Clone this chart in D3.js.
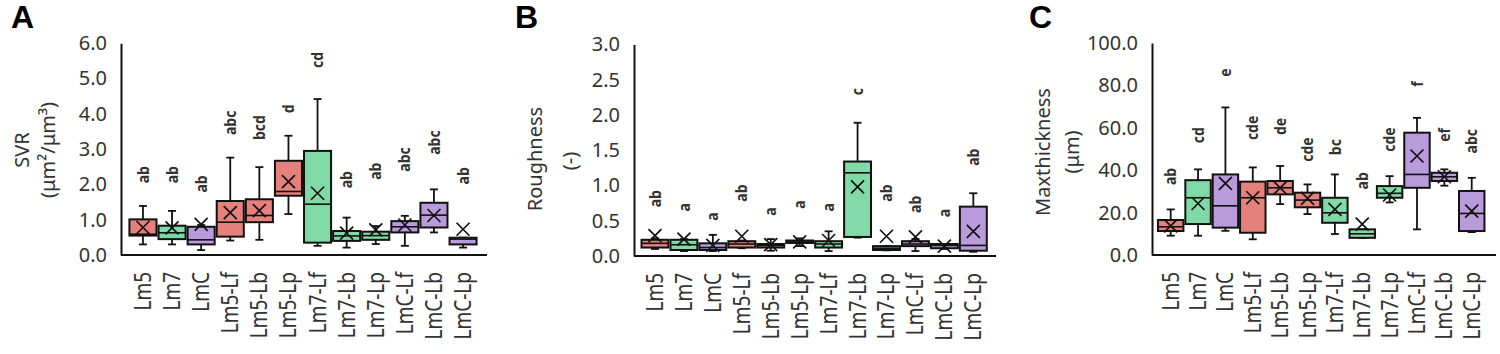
<!DOCTYPE html>
<html>
<head>
<meta charset="utf-8">
<script src="https://cdn.jsdelivr.net/npm/d3@7"></script>
<style>
  body { margin: 0; background: #fff; }
  svg { display: block; }
</style>
</head>
<body>
<div id="fig"></div>
<script>
// sample names and their strain group (sets the colour)
var categories = ["Lm5", "Lm7", "LmC", "Lm5-Lf", "Lm5-Lb", "Lm5-Lp",
                  "Lm7-Lf", "Lm7-Lb", "Lm7-Lp", "LmC-Lf", "LmC-Lb", "LmC-Lp"];
var groups = ["Lm5", "Lm7", "LmC", "Lm5", "Lm5", "Lm5",
              "Lm7", "Lm7", "Lm7", "LmC", "LmC", "LmC"];

// A - SVR
var svrMin  = [0.30, 0.30, 0.14, 0.41, 0.43, 1.16, 0.26, 0.21, 0.31, 0.26, 0.64, 0.21];
var svrQ1   = [0.55, 0.45, 0.30, 0.52, 0.93, 1.68, 0.35, 0.40, 0.43, 0.64, 0.78, 0.30];
var svrMed  = [0.59, 0.63, 0.43, 0.93, 1.12, 1.80, 1.44, 0.54, 0.55, 0.80, 1.13, 0.45];
var svrQ3   = [1.01, 0.83, 0.80, 1.53, 1.58, 2.67, 2.95, 0.68, 0.66, 0.96, 1.48, 0.49];
var svrMax  = [1.39, 1.25, 0.85, 2.76, 2.49, 3.38, 4.42, 1.06, 0.82, 1.11, 1.86, 0.49];
var svrMean = [0.78, 0.77, 0.87, 1.20, 1.26, 2.08, 1.75, 0.62, 0.71, 0.85, 1.12, 0.73];
var svrLetters  = ["ab", "ab", "ab", "abc", "bcd", "d", "cd", "ab", "ab", "abc", "abc", "ab"];
var svrLetterAt = [2.03, 2.03, 1.77, 3.40, 3.26, 4.02, 5.30, 1.89, 2.13, 2.36, 2.84, 2.00];
var svrTicks = [0, 1, 2, 3, 4, 5, 6];

// B - Roughness
var rghMin  = [0.10, 0.07, 0.07, 0.11, 0.075, 0.14, 0.07, 0.26, 0.08, 0.07, 0.10, 0.06];
var rghQ1   = [0.12, 0.085, 0.085, 0.12, 0.12, 0.185, 0.12, 0.27, 0.085, 0.14, 0.11, 0.075];
var rghMed  = [0.18, 0.16, 0.12, 0.17, 0.15, 0.20, 0.17, 1.18, 0.11, 0.17, 0.15, 0.15];
var rghQ3   = [0.23, 0.23, 0.18, 0.21, 0.17, 0.22, 0.21, 1.34, 0.14, 0.21, 0.17, 0.70];
var rghMax  = [0.25, 0.24, 0.30, 0.22, 0.24, 0.25, 0.35, 1.89, 0.14, 0.24, 0.17, 0.89];
var rghMean = [0.29, 0.24, 0.15, 0.28, 0.16, 0.20, 0.22, 0.98, 0.28, 0.27, 0.14, 0.35];
var rghLetters  = ["ab", "a", "a", "ab", "a", "a", "a", "c", "ab", "ab", "a", "ab"];
var rghLetterAt = [0.69, 0.63, 0.50, 0.77, 0.57, 0.67, 0.63, 2.28, 0.77, 0.61, 0.55, 1.28];
var rghTicks = [0, 0.5, 1, 1.5, 2, 2.5, 3];

// C - Max thickness
var mthMin  = [9.1, 9.1, 11.4, 7.4, 24.0, 19.3, 9.9, 8.0, 24.8, 12.1, 32.7, 10.8];
var mthQ1   = [11.3, 14.6, 12.9, 10.5, 28.6, 22.5, 15.2, 8.1, 27.0, 31.7, 34.9, 11.3];
var mthMed  = [13.3, 27.0, 23.2, 27.0, 31.7, 25.9, 19.9, 10.0, 29.1, 38.0, 36.9, 19.6];
var mthQ3   = [16.5, 35.3, 38.0, 34.6, 34.9, 29.4, 27.0, 12.1, 32.5, 57.7, 38.8, 30.2];
var mthMax  = [21.5, 40.4, 69.6, 41.3, 42.0, 33.3, 38.0, 12.1, 37.2, 64.7, 40.4, 36.4];
var mthMean = [13.7, 24.3, 33.8, 27.0, 31.7, 26.7, 21.5, 14.6, 28.3, 46.7, 36.9, 20.7];
var mthLetters  = ["ab", "cd", "e", "cde", "de", "cde", "bc", "ab", "cde", "f", "ef", "abc"];
var mthLetterAt = [33.0, 52.7, 84.1, 54.2, 56.6, 44.0, 47.1, 30.9, 48.7, 79.4, 53.4, 47.9];
var mthTicks = [0, 20, 40, 60, 80, 100];

var colors = {Lm5: "#e6807c", Lm7: "#80d9a6", LmC: "#b99bdb"};

var svg = d3.select("#fig")
    .append("svg")
    .attr("width", 1500)
    .attr("height", 354);

function draw_panel(p) {
    var g = svg.append("g");

    var y = d3.scaleLinear()
	.domain([0, p.ticks[p.ticks.length - 1]])
	.range([p.bottom, p.top]);

    var x = d3.scaleBand()
	.domain(categories)
	.range([p.left, p.right])
	.paddingInner(0.07)
	.paddingOuter(0.035);

    var rows = categories.map((c, i) => ({
	name: c, group: groups[i],
	min: p.min[i], q1: p.q1[i], med: p.med[i], q3: p.q3[i], max: p.max[i],
	mean: p.mean[i], letter: p.letters[i], letterAt: p.letterAt[i]
    }));

    // y axis
    var yAxis = g.append("g")
	.attr("transform", "translate(" + p.axisX + ",0)")
	.call(d3.axisLeft(y)
	      .tickValues(p.ticks)
	      .tickSize(0)
	      .tickPadding(14)
	      .tickFormat(d3.format(".1f")));
    yAxis.select(".domain")
	.attr("stroke", "#111")
	.attr("stroke-width", 2);
    yAxis.selectAll("text")
	.attr("font-family", "Noto Sans")
	.attr("font-size", 20)
	.attr("fill", "#333");

    // x axis line runs a bit past the last box
    g.append("line")
	.attr("x1", p.axisX).attr("x2", p.axisEnd)
	.attr("y1", p.bottom).attr("y2", p.bottom)
	.attr("stroke", "#111")
	.attr("stroke-width", 2);

    var xAxis = g.append("g")
	.attr("transform", "translate(0," + p.bottom + ")")
	.call(d3.axisBottom(x).tickSize(0));
    xAxis.select(".domain").remove();
    xAxis.selectAll("text")
	.attr("y", 0)
	.attr("dy", "0.35em")
	.attr("text-anchor", "end")
	.attr("transform", "translate(0,17) rotate(-90) scale(1,1.2)")
	.attr("font-family", "Noto Sans")
	.attr("font-size", 19)
	.attr("fill", "#333");

    var box = g.selectAll(".box")
	.data(rows)
	.enter()
	.append("g")
	.attr("class", "box")
	.attr("transform", d => "translate(" + (x(d.name) + x.bandwidth() / 2) + ",0)");

    var bw = x.bandwidth();
    var cap = 4;

    // whiskers
    box.append("line")
	.attr("y1", d => y(d.max)).attr("y2", d => y(d.q3))
	.attr("stroke", "#111").attr("stroke-width", 1.8);
    box.append("line")
	.attr("y1", d => y(d.q1)).attr("y2", d => y(d.min))
	.attr("stroke", "#111").attr("stroke-width", 1.8);
    box.append("line")
	.attr("x1", -cap).attr("x2", cap)
	.attr("y1", d => y(d.max)).attr("y2", d => y(d.max))
	.attr("stroke", "#111").attr("stroke-width", 1.8);
    box.append("line")
	.attr("x1", -cap).attr("x2", cap)
	.attr("y1", d => y(d.min)).attr("y2", d => y(d.min))
	.attr("stroke", "#111").attr("stroke-width", 1.8);

    box.append("rect")
	.attr("x", -bw / 2)
	.attr("width", bw)
	.attr("y", d => y(d.q3))
	.attr("height", d => Math.max(1, y(d.q1) - y(d.q3)))
	.attr("fill", d => colors[d.group])
	.attr("stroke", "#111")
	.attr("stroke-width", 2);

    box.append("line")
	.attr("x1", -bw / 2).attr("x2", bw / 2)
	.attr("y1", d => y(d.med)).attr("y2", d => y(d.med))
	.attr("stroke", "#111").attr("stroke-width", 1.6);

    // mean marker
    var m = 6.5;
    box.append("path")
	.attr("d", d => "M" + (-m) + "," + (y(d.mean) - m) + "L" + m + "," + (y(d.mean) + m) +
	      "M" + (-m) + "," + (y(d.mean) + m) + "L" + m + "," + (y(d.mean) - m))
	.attr("fill", "none")
	.attr("stroke", "#111")
	.attr("stroke-width", 1.7);

    // significance letters
    box.append("text")
	.attr("transform", d => "translate(0," + y(d.letterAt) + ") rotate(-90) scale(1,1.15)")
	.attr("dy", "0.35em")
	.attr("text-anchor", "start")
	.attr("font-family", "Noto Sans")
	.attr("font-weight", "bold")
	.attr("font-size", 14)
	.attr("fill", "#333")
	.text(d => d.letter);

    // y title
    p.title.forEach(function (t, i) {
	g.append("text")
	    .attr("transform", "translate(" + t.x + "," + t.y + ") rotate(-90)")
	    .attr("dy", "0.35em")
	    .attr("text-anchor", "middle")
	    .attr("font-family", "Noto Sans")
	    .attr("font-size", 20)
	    .attr("fill", "#333")
	    .text(t.text);
    });

    g.append("text")
	.attr("x", p.tag.x)
	.attr("y", 28)
	.attr("font-family", "Liberation Sans")
	.attr("font-weight", "bold")
	.attr("font-size", 32)
	.attr("fill", "#000")
	.text(p.tag.text);
}

draw_panel({
    min: svrMin, q1: svrQ1, med: svrMed, q3: svrQ3, max: svrMax, mean: svrMean,
    letters: svrLetters, letterAt: svrLetterAt, ticks: svrTicks,
    top: 43.3, bottom: 255, axisX: 121, axisEnd: 487, left: 128.4, right: 477.6,
    title: [{text: "SVR", x: 22, y: 150}, {text: "(\u03bcm\u00b2/\u03bcm\u00b3)", x: 48, y: 150}],
    tag: {text: "A", x: 11}
});

draw_panel({
    min: rghMin, q1: rghQ1, med: rghMed, q3: rghQ3, max: rghMax, mean: rghMean,
    letters: rghLetters, letterAt: rghLetterAt, ticks: rghTicks,
    top: 44.5, bottom: 256, axisX: 634, axisEnd: 996, left: 640.5, right: 987.8,
    title: [{text: "Roughness", x: 535, y: 159}, {text: "(-)", x: 570, y: 161}],
    tag: {text: "B", x: 515}
});

draw_panel({
    min: mthMin, q1: mthQ1, med: mthMed, q3: mthQ3, max: mthMax, mean: mthMean,
    letters: mthLetters, letterAt: mthLetterAt, ticks: mthTicks,
    top: 43, bottom: 255, axisX: 1152, axisEnd: 1496, left: 1157, right: 1485.4,
    title: [{text: "Maxthickness", x: 1043, y: 152}, {text: "(\u03bcm)", x: 1072, y: 152}],
    tag: {text: "C", x: 1029}
});
</script>
</body>
</html>
